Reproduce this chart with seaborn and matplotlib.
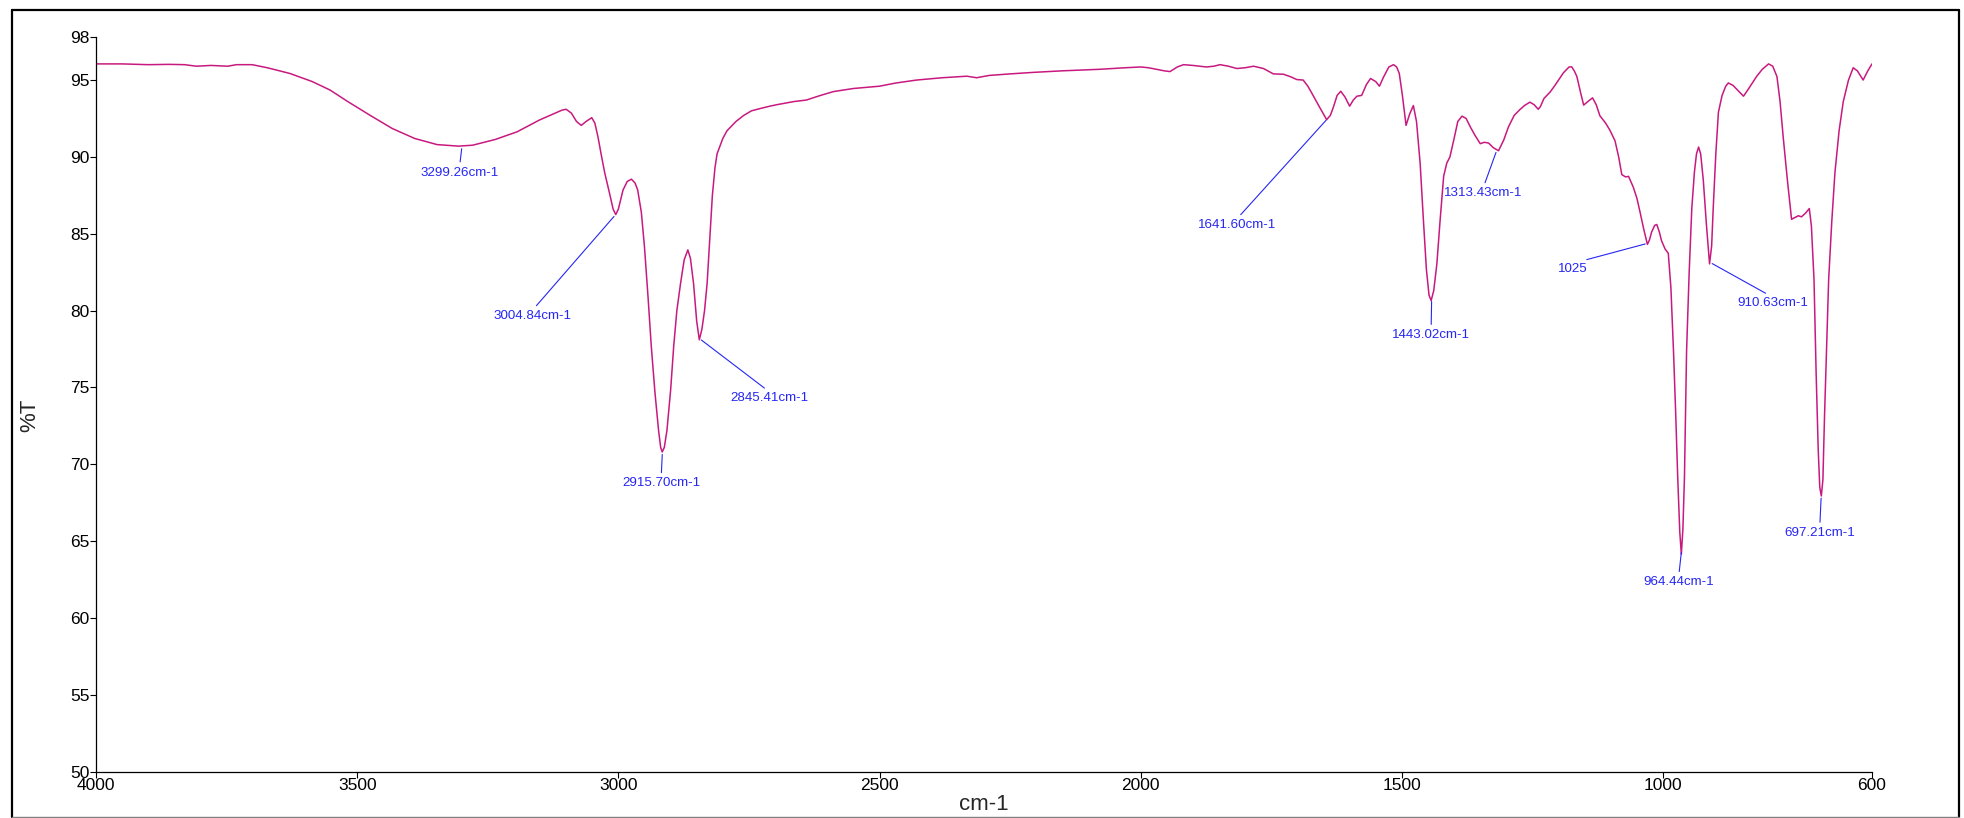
import matplotlib
matplotlib.use('Agg')
import matplotlib.pyplot as plt
import seaborn as sns
import pandas as pd
import numpy as np

# IR spectrum (wavenumber in cm-1, %T)
wavenumber = [4000, 3950, 3900, 3860, 3830, 3808, 3780, 3748, 3731, 3701, 3672, 3629, 3586, 3552,
              3518, 3475, 3433, 3390, 3347, 3306, 3279, 3236, 3194, 3151, 3108, 3100, 3090, 3080,
              3071, 3062, 3051, 3045, 3039, 3032, 3026, 3017, 3010, 3005, 3000, 2991, 2983, 2975,
              2968, 2963, 2956, 2950, 2943, 2937, 2930, 2923, 2919, 2916, 2912, 2907, 2900, 2894,
              2888, 2881, 2874, 2867, 2862, 2856, 2850, 2845, 2840, 2835, 2830, 2825, 2820, 2815,
              2811, 2800, 2792, 2775, 2760, 2745, 2728, 2710, 2696, 2664, 2640, 2613, 2588, 2550,
              2500, 2470, 2429, 2380, 2333, 2314, 2290, 2250, 2205, 2150, 2078, 2030, 2000, 1985,
              1970, 1955, 1944, 1930, 1918, 1900, 1886, 1874, 1860, 1848, 1832, 1816, 1800, 1784,
              1765, 1746, 1727, 1712, 1701, 1689, 1680, 1670, 1657, 1644, 1637, 1631, 1624, 1617,
              1609, 1600, 1593, 1586, 1577, 1568, 1560, 1550, 1543, 1535, 1525, 1516, 1510, 1505,
              1499, 1492, 1485, 1478, 1472, 1465, 1459, 1453, 1448, 1444, 1439, 1433, 1427, 1420,
              1414, 1408, 1400, 1393, 1385, 1377, 1369, 1360, 1350, 1342, 1334, 1325, 1315, 1305,
              1296, 1285, 1274, 1265, 1255, 1247, 1239, 1235, 1228, 1216, 1207, 1191, 1180, 1175,
              1170, 1165, 1158, 1152, 1144, 1135, 1128, 1121, 1110, 1102, 1092, 1085, 1079, 1072,
              1066, 1057, 1050, 1044, 1037, 1030, 1026, 1022, 1016, 1012, 1007, 1003, 996, 990,
              985, 980, 976, 972, 968, 965, 962, 959, 955, 950, 945, 940, 936, 932, 928, 923, 917,
              911, 907, 904, 899, 894, 887, 880, 875, 866, 856, 846, 835, 821, 810, 798, 790, 782,
              776, 770, 762, 754, 748, 741, 735, 727, 720, 716, 711, 707, 703, 700, 697, 694, 691,
              687, 683, 677, 671, 663, 655, 645, 636, 628, 617, 608, 600]
transmittance = [96.05, 96.05, 96.0, 96.02, 96.0, 95.9, 95.95, 95.9, 96.0, 96.0, 95.8, 95.43, 94.9, 94.35,
                 93.6, 92.7, 91.85, 91.2, 90.8, 90.7, 90.76, 91.13, 91.63, 92.4, 93.04, 93.1, 92.85, 92.3,
                 92.05, 92.3, 92.55, 92.2, 91.3, 90.0, 88.95, 87.65, 86.6, 86.25, 86.6, 87.85, 88.4, 88.55,
                 88.3, 87.85, 86.4, 84.15, 80.8, 77.7, 74.7, 72.2, 71.1, 70.8, 71.1, 72.2, 74.8, 77.7,
                 80.0, 81.75, 83.3, 83.95, 83.4, 81.75, 79.3, 78.1, 78.8, 80.0, 81.8, 84.7, 87.5, 89.3,
                 90.2, 91.2, 91.7, 92.3, 92.7, 93.0, 93.15, 93.3, 93.4, 93.6, 93.7, 94.0, 94.25, 94.45,
                 94.6, 94.8, 95.0, 95.15, 95.25, 95.15, 95.3, 95.4, 95.5, 95.6, 95.7, 95.8, 95.85, 95.8,
                 95.7, 95.6, 95.55, 95.85, 96.0, 95.95, 95.9, 95.85, 95.9, 96.0, 95.9, 95.75, 95.8, 95.9,
                 95.75, 95.4, 95.38, 95.2, 95.03, 95.0, 94.6, 94.0, 93.2, 92.42, 92.7, 93.25, 94.0, 94.27,
                 93.9, 93.3, 93.7, 93.95, 94.0, 94.7, 95.1, 94.9, 94.6, 95.2, 95.85, 96.0, 95.85, 95.43,
                 94.0, 92.05, 92.8, 93.34, 92.3, 89.57, 86.0, 82.65, 81.0, 80.65, 81.3, 83.05, 85.8, 88.75,
                 89.6, 90.0, 91.2, 92.3, 92.65, 92.5, 91.95, 91.4, 90.86, 90.95, 90.9, 90.6, 90.4, 91.1,
                 91.95, 92.7, 93.08, 93.35, 93.56, 93.4, 93.1, 93.26, 93.8, 94.23, 94.65, 95.46, 95.85, 95.86,
                 95.6, 95.23, 94.2, 93.37, 93.6, 93.84, 93.4, 92.68, 92.2, 91.75, 91.05, 90.0, 88.85, 88.7,
                 88.73, 88.03, 87.3, 86.4, 85.3, 84.31, 84.6, 85.1, 85.55, 85.6, 85.1, 84.55, 84.0, 83.73,
                 81.5, 77.35, 73.5, 69.2, 65.6, 64.15, 65.8, 69.2, 77.35, 82.5, 86.64, 89.0, 90.2, 90.64, 90.2, 88.5, 85.6,
                 83.04, 84.2, 86.64, 90.2, 92.91, 94.0, 94.6, 94.81, 94.65, 94.3, 93.95, 94.5, 95.23, 95.7, 96.05, 95.9, 95.23,
                 93.6, 91.29, 88.5, 85.94, 86.05, 86.17, 86.1, 86.35, 86.64, 85.5, 82.0, 76.0, 71.0, 68.5, 67.94, 69.0, 73.0,
                 77.5, 82.0, 85.8, 88.96, 91.7, 93.6, 95.0, 95.8, 95.6, 95.0, 95.6, 96.05]

# peak labels: text, the wavenumber the leader points at, and where the text sits (data coords)
peak_labels = ['3299.26cm-1', '3004.84cm-1', '2915.70cm-1', '2845.41cm-1', '1641.60cm-1',
               '1443.02cm-1', '1313.43cm-1', '1025', '964.44cm-1', '910.63cm-1', '697.21cm-1']
peak_wn = [3299.26, 3004.84, 2915.70, 2845.41, 1641.60, 1443.02, 1318.0, 1029.0, 964.44, 910.63, 697.21]
label_x = [3304, 3164, 2918, 2710, 1816, 1444, 1344, 1172, 970, 790, 700]
label_y = [88.98, 79.65, 68.76, 74.3, 85.57, 78.41, 87.63, 82.69, 62.33, 80.48, 65.54]

x_ticks = [4000, 3500, 3000, 2500, 2000, 1500, 1000, 600]
y_ticks = [50, 55, 60, 65, 70, 75, 80, 85, 90, 95, 97.82]
y_ticklabels = ['50', '55', '60', '65', '70', '75', '80', '85', '90', '95', '98']

df = pd.DataFrame({'cm-1': wavenumber, '%T': transmittance})

sns.set_style('ticks')
plt.rcParams['font.family'] = ['Liberation Sans', 'DejaVu Sans']

line_col = '#C8197F'
blue = '#2626F5'

fig = plt.figure(figsize=(19.65, 8.18), dpi=100)
ax = fig.add_axes([96/1965, 1-771.7/818, 1776/1965, 735/818])
sns.lineplot(data=df, x='cm-1', y='%T', sort=False, color=line_col, lw=1.1, ax=ax)

ax.set_xlim(4000, 600)
ax.set_ylim(50, 97.82)
ax.set_xticks(x_ticks)
ax.set_xticklabels([str(t) for t in x_ticks])
ax.set_yticks(y_ticks)
ax.set_yticklabels(y_ticklabels)
ax.tick_params(axis='both', labelsize=12.5, length=4, width=0.8, pad=0.5, color='black', labelcolor='black')
for s in ['left', 'bottom']:
    ax.spines[s].set_linewidth(0.9)
    ax.spines[s].set_color('black')
sns.despine(ax=ax)

ax.set_xlabel('cm-1', fontsize=16)
ax.set_ylabel('%T', fontsize=16)
ax.xaxis.set_label_coords(0.5, -0.030)
ax.yaxis.set_label_coords(-0.0314, 0.485)

# leader lines + labels
wn_inc = np.array(wavenumber[::-1], dtype=float)
t_inc = np.array(transmittance[::-1], dtype=float)
for lab, pw, tx, ty in zip(peak_labels, peak_wn, label_x, label_y):
    pt = np.interp(pw, wn_inc, t_inc)
    ax.annotate(lab, xy=(pw, pt), xytext=(tx, ty), textcoords='data', ha='center', va='center',
                fontsize=9.6, color=blue,
                arrowprops=dict(arrowstyle='-', color=blue, lw=0.8, relpos=(0.5, 1.0),
                                shrinkA=1, shrinkB=2))

# outer frame
fig.add_artist(plt.Line2D([12/1965, 12/1965], [1-10/818, 1-816.5/818], color='black', lw=1.6, transform=fig.transFigure))
fig.add_artist(plt.Line2D([12/1965, 1959/1965], [1-10/818, 1-10/818], color='black', lw=1.6, transform=fig.transFigure))
fig.add_artist(plt.Line2D([1959/1965, 1959/1965], [1-10/818, 1-816.5/818], color='black', lw=1.6, transform=fig.transFigure))
fig.add_artist(plt.Line2D([12/1965, 1959/1965], [1-816.5/818, 1-816.5/818], color='#808080', lw=1.0, transform=fig.transFigure))

fig.savefig('out.png', dpi=100)
